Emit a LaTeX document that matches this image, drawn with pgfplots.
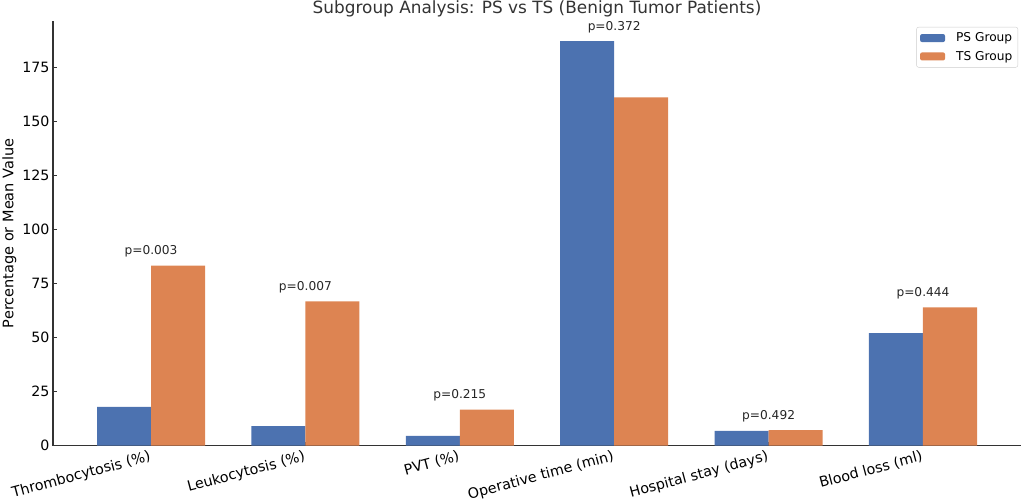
\documentclass[border=0pt]{standalone}
\usepackage{pgfplots}
\pgfplotsset{compat=1.18}
\usepackage{fontspec}
\setmainfont{DejaVu Sans}
\definecolor{psblue}{HTML}{4C72B0}
\definecolor{tsorange}{HTML}{DD8452}
\definecolor{spine}{HTML}{333333}
\begin{document}
\begin{tikzpicture}[x=1pt,y=1pt]
\begin{axis}[
  at={(53pt,56.3pt)}, anchor=south west,
  scale only axis, width=968pt, height=424.7pt,
  clip mode=individual,
  xmin=-0.635, xmax=5.635, ymin=0, ymax=196.35,
  axis x line*=bottom, axis y line*=left,
  axis line style={spine, line width=1.1pt},
  xtick={0,1,2,3,4,5},
  xticklabels={Thrombocytosis (\%), Leukocytosis (\%), PVT (\%), Operative time (min), Hospital stay (days), Blood loss (ml)},
  ytick={0,25,50,75,100,125,150,175},
  tick align=inside,
  major tick length=3.5pt,
  tick style={spine, line width=0.8pt},
  /pgf/number format/assume math mode=true,
  yticklabel style={font=\fontsize{14.2}{16}\selectfont},
  xticklabel style={rotate=15, anchor=north east, font=\fontsize{14.3}{16}\selectfont},
  ylabel={Percentage or Mean Value},
  ylabel style={at={(axis description cs:-0.041,0.5)}, anchor=base, font=\fontsize{14.5}{16}\selectfont},
  legend style={at={(axis description cs:1,1)}, anchor=north east, xshift=-3pt, yshift=-6pt,
    draw=black!20, rounded corners=2pt, font=\fontsize{12.2}{14}\selectfont,
    inner xsep=3.5pt, inner ysep=3.6pt, row sep=3.8pt, nodes={inner sep=2pt},
    /tikz/every odd column/.append style={column sep=9pt}},
  legend cell align=left,
]
\addplot[ybar, bar width=0.35, bar shift=-0.175, fill=psblue, draw=none,
  legend image code/.code={\fill[psblue] (0pt,-4pt) rectangle (25pt,4pt);}]
  coordinates {(0,18.0) (1,9.1) (2,4.5) (3,187.0) (4,6.9) (5,52.0)};
\addlegendentry{PS Group}
\addplot[ybar, bar width=0.35, bar shift=0.175, fill=tsorange, draw=none,
  legend image code/.code={\fill[tsorange] (0pt,-4pt) rectangle (25pt,4pt);}]
  coordinates {(0,83.3) (1,66.7) (2,16.7) (3,161.0) (4,7.2) (5,64.0)};
\addlegendentry{TS Group}
\begin{scope}[every node/.style={anchor=base, font=\fontsize{12.2}{14}\selectfont, text=black!85}]
\node at (axis cs:0,88.3) {p=0.003};
\node at (axis cs:1,71.7) {p=0.007};
\node at (axis cs:2,21.7) {p=0.215};
\node at (axis cs:3,192.0) {p=0.372};
\node at (axis cs:4,12.2) {p=0.492};
\node at (axis cs:5,69.0) {p=0.444};
\end{scope}
\node[anchor=base, font=\fontsize{16.9}{19}\selectfont, text=spine, yshift=7.7pt] at (axis description cs:0.5,1) {Subgroup Analysis: PS vs TS (Benign Tumor Patients)};
\end{axis}
\pgfresetboundingbox
\useasboundingbox (0,0) rectangle (1026,502);
\end{tikzpicture}
\end{document}
